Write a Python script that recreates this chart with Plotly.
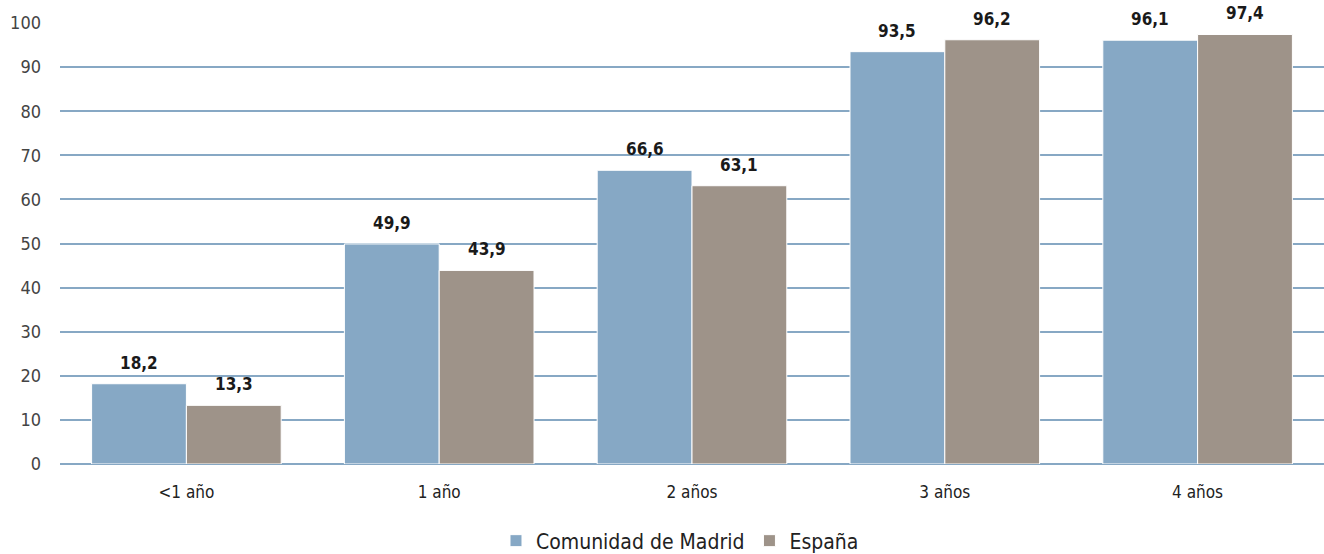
import plotly.graph_objects as go

categories = ["<1 año", "1 año", "2 años", "3 años", "4 años"]
madrid = [18.2, 49.9, 66.6, 93.5, 96.1]
espana = [13.3, 43.9, 63.1, 96.2, 97.4]
series_names = ["Comunidad de Madrid", "España"]
tick_vals = list(range(0, 101, 10))

FONT = "Liberation Sans Narrow, DejaVu Sans Condensed, Arial Narrow, sans-serif"
C_MAD = "#86A8C5"
C_ESP = "#9E9389"
GRID = "#87A8C4"

W, H = 1324, 554
ML, MR, MT, MB = 60, 0, 23, 90
BARGAP = 0.25

def fmt(v):
    return f"{v:.1f}".replace(".", ",")

fig = go.Figure()
for name, vals, col in [(series_names[0], madrid, C_MAD), (series_names[1], espana, C_ESP)]:
    fig.add_trace(go.Bar(
        x=categories, y=vals, name=name,
        marker=dict(color=col, line=dict(color="white", width=1)),
        cliponaxis=False,
    ))

group_px = (W - ML - MR) / len(categories)
bar_px = group_px * (1 - BARGAP) / 2
annotations = []
for vals, sign in [(madrid, -1), (espana, 1)]:
    for c, v in zip(categories, vals):
        annotations.append(dict(
            x=c, y=v, xref="x", yref="y", text=fmt(v), showarrow=False,
            xshift=sign * bar_px / 2, yshift=21, yanchor="middle",
            font=dict(family=FONT, size=17, color="#1a1a1a", weight="bold"),
        ))

fig.update_layout(
    width=W, height=H,
    margin=dict(l=ML, r=MR, t=MT, b=MB),
    paper_bgcolor="white", plot_bgcolor="white",
    barmode="group", bargap=BARGAP, bargroupgap=0,
    font=dict(family=FONT, size=17, color="#333333"),
    showlegend=True,
    annotations=annotations,
    legend=dict(orientation="h", x=0.4905, xanchor="center",
                yref="container", y=1 - 541 / H, yanchor="middle",
                font=dict(family=FONT, size=21, color="#222222"),
                itemwidth=30, traceorder="normal"),
    xaxis=dict(showgrid=False, showline=False, ticks="", ticklabelstandoff=16, automargin=False,
               tickfont=dict(family=FONT, size=17, color="#222222")),
    yaxis=dict(range=[0, 100], tickvals=tick_vals, showgrid=True, gridcolor=GRID, gridwidth=2,
               zeroline=True, zerolinecolor=GRID, zerolinewidth=2, showline=False,
               ticks="", ticklabelstandoff=18, automargin=False,
               tickfont=dict(family=FONT, size=18, color="#444444")),
)

# remove the default 8px page margin so the figure fills the window exactly
fig.write_html("out.html", config={"displayModeBar": False},
               post_script="document.body.style.margin='0';")
